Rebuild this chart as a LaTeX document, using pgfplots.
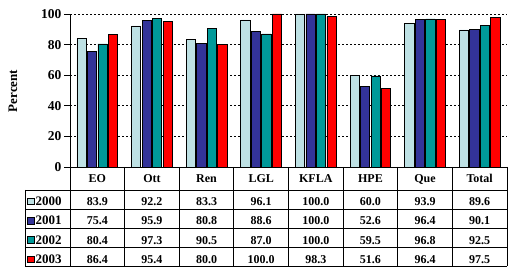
\documentclass[border=0pt]{standalone}
\usepackage{pgfplots}
\usepackage{pgfplotstable}
\pgfplotsset{compat=1.18}
\usepackage{fontspec}
\setmainfont{Liberation Serif}
\definecolor{cA}{RGB}{190,225,228}
\definecolor{cB}{RGB}{51,51,153}
\definecolor{cC}{RGB}{0,153,153}
\definecolor{cD}{RGB}{255,0,0}
\pgfplotstableread{
idx cat a b c d
0 EO 83.9 75.4 80.4 86.4
1 Ott 92.2 95.9 97.3 95.4
2 Ren 83.3 80.8 90.5 80.0
3 LGL 96.1 88.6 87.0 100.0
4 KFLA 100.0 100.0 100.0 98.3
5 HPE 60.0 52.6 59.5 51.6
6 Que 93.9 96.4 96.8 96.4
7 Total 89.6 90.1 92.5 97.5
}\data
\begin{document}
\begin{tikzpicture}[x=1pt,y=1pt,font=\fontsize{12}{12}\selectfont\bfseries]
\path[use as bounding box] (0,0) rectangle (508,267);
\begin{axis}[at={(70pt,100pt)}, anchor=south west, scale only axis,
  width=437pt, height=153pt, xmin=-0.5, xmax=7.5, ymin=0, ymax=100,
  ytick={0,20,...,100}, xtick=\empty,
  axis x line*=bottom, axis y line*=left,
  axis line style={-, line width=0.8pt},
  ymajorgrids, grid style={black, line width=0.8pt, dash pattern=on 2pt off 2pt},
  tick align=outside, major tick length=6pt, tick style={black, line width=0.8pt},
  yticklabel style={font=\fontsize{13.5}{13.5}\selectfont\bfseries, xshift=1pt},
  /pgf/number format/assume math mode=true,
  ybar, bar width=9.3pt, clip=false,
  every axis plot/.append style={draw=black, line width=0.7pt}]
\addplot[fill=cA, bar shift=-15.75pt] table[x=idx,y=a]{\data};
\addplot[fill=cB, bar shift=-5.25pt] table[x=idx,y=b]{\data};
\addplot[fill=cC, bar shift=5.25pt] table[x=idx,y=c]{\data};
\addplot[fill=cD, bar shift=15.75pt] table[x=idx,y=d]{\data};
\end{axis}
\node[rotate=90] at (13,176) {\fontsize{13}{13}\selectfont\bfseries Percent};
% table lines
\draw[line width=0.8pt] (70,100) -- (70,1);
\draw[line width=0.8pt] (507,100) -- (507,1);
\draw[line width=0.8pt] (25,77) -- (25,1);
\foreach \yy in {77,58,39,20,1} {\draw[line width=0.8pt] (25,\yy) -- (507,\yy);}
\foreach \i in {1,...,7} {
  \pgfmathsetmacro\bx{70+54.625*\i}
  \draw[line width=0.8pt] (\bx,100) -- (\bx,1);
}
\tikzset{cell/.style={inner sep=0pt, text height=8.1pt, text depth=0pt, anchor=center}}
\foreach \i in {0,...,7} {
  \pgfmathsetmacro\cx{70+54.625*(\i+0.5)}
  \pgfplotstablegetelem{\i}{cat}\of\data
  \node[cell] at (\cx,88.4) {\pgfplotsretval};
  \foreach \col/\yy in {a/65.4,b/46.2,c/27.0,d/7.8} {
    \pgfplotstablegetelem{\i}{\col}\of\data
    \node[cell] at (\cx,\yy) {\pgfplotsretval};
  }
}
\foreach \cc/\yy/\yr in {cA/65.4/2000,cB/46.2/2001,cC/27.0/2002,cD/7.8/2003} {
  \draw[fill=\cc, line width=0.6pt] (27.5,\yy-3.2) rectangle ++(6.5,6.5);
  \node[cell, anchor=west] at (35.5,\yy) {\fontsize{13}{13}\selectfont\bfseries\yr};
}
\end{tikzpicture}
\end{document}
